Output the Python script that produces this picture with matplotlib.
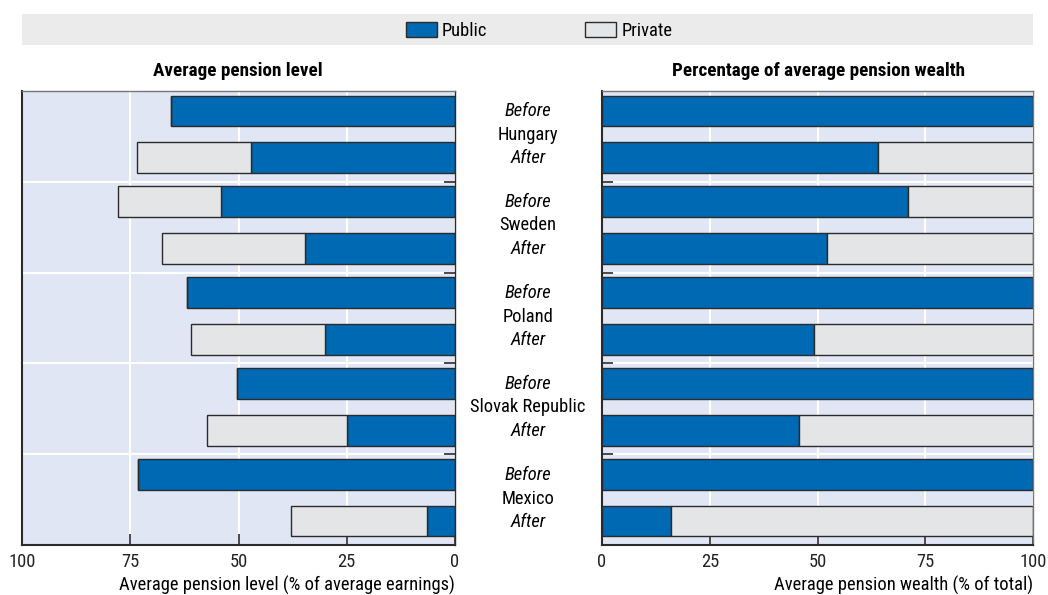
import matplotlib
matplotlib.use('Agg')
import matplotlib.pyplot as plt
from matplotlib.patches import Rectangle

plt.rcParams['font.family'] = ['Roboto Condensed', 'DejaVu Sans']

# Data
countries = ['Hungary', 'Sweden', 'Poland', 'Slovak Republic', 'Mexico']
level_public_before = [65.5, 54.0, 61.9, 50.3, 73.2]
level_private_before = [0.0, 23.8, 0.0, 0.0, 0.0]
level_public_after = [47.1, 34.6, 30.0, 24.9, 6.5]
level_private_after = [26.3, 33.1, 31.0, 32.4, 31.4]
wealth_public_before = [100.0, 71.0, 100.0, 100.0, 100.0]
wealth_public_after = [64.0, 52.2, 49.2, 45.7, 16.0]

PUBLIC = '#0069b4'
PRIVATE = '#e4e5e7'
BG = '#e0e6f4'
EDGE = '#2b2b2b'
FS = 13.3

fig = plt.figure(figsize=(10.48, 5.95), dpi=100)
W, H = 1048, 595

# legend band
fig.patches.append(Rectangle((22 / W, 1 - 45 / H), (1033 - 22) / W, 31 / H,
                             transform=fig.transFigure, facecolor='#ebebeb',
                             edgecolor='none', zorder=0))
fig.patches.append(Rectangle((406 / W, 1 - 37 / H), 31 / W, 15 / H,
                             transform=fig.transFigure, facecolor=PUBLIC,
                             edgecolor=EDGE, lw=1))
fig.text(442 / W, 1 - 30.5 / H, 'Public', fontsize=FS, va='center')
fig.patches.append(Rectangle((585 / W, 1 - 37 / H), 31 / W, 15 / H,
                             transform=fig.transFigure, facecolor=PRIVATE,
                             edgecolor=EDGE, lw=1))
fig.text(622 / W, 1 - 30.5 / H, 'Private', fontsize=FS, va='center')

ax1 = fig.add_axes([22 / W, 50 / H, 433 / W, 454 / H])
ax2 = fig.add_axes([602 / W, 50 / H, 431 / W, 454 / H])

yb = [i + 0.22 for i in range(len(countries))]
ya = [i + 0.735 for i in range(len(countries))]
h = 0.34

# left panel: public from 0, private stacked on top
ax1.barh(yb, level_public_before, height=h, color=PUBLIC, edgecolor=EDGE, lw=1)
ax1.barh(yb, level_private_before, left=level_public_before, height=h,
         color=PRIVATE, edgecolor=EDGE, lw=1)
ax1.barh(ya, level_public_after, height=h, color=PUBLIC, edgecolor=EDGE, lw=1)
ax1.barh(ya, level_private_after, left=level_public_after, height=h,
         color=PRIVATE, edgecolor=EDGE, lw=1)
ax1.set_xlim(100, 0)

# right panel: shares add up to 100
wealth_private_before = [100 - v for v in wealth_public_before]
wealth_private_after = [100 - v for v in wealth_public_after]
ax2.barh(yb, wealth_public_before, height=h, color=PUBLIC, edgecolor=EDGE, lw=1)
ax2.barh(yb, wealth_private_before, left=wealth_public_before, height=h,
         color=PRIVATE, edgecolor=EDGE, lw=1)
ax2.barh(ya, wealth_public_after, height=h, color=PUBLIC, edgecolor=EDGE, lw=1)
ax2.barh(ya, wealth_private_after, left=wealth_public_after, height=h,
         color=PRIVATE, edgecolor=EDGE, lw=1)
ax2.set_xlim(0, 100)

for ax in (ax1, ax2):
    ax.set_facecolor(BG)
    ax.set_ylim(len(countries), 0)
    ax.set_axisbelow(True)
    ax.set_xticks([0, 25, 50, 75, 100])
    ax.set_yticks(range(1, len(countries)))
    ax.set_yticklabels([])
    ax.grid(True, color='white', lw=1.5)
    ax.tick_params(axis='x', direction='in', length=8, width=1.2,
                   colors=EDGE, labelsize=FS, pad=6, labelcolor='#222222')
    ax.tick_params(axis='y', direction='in', length=8, width=1.2, colors=EDGE)
    for s in ax.spines.values():
        s.set_color(EDGE)
        s.set_linewidth(1.5)
    ax.spines['top'].set_color('#777777')
    ax.spines['top'].set_linewidth(1)

ax1.yaxis.tick_right()
ax1.spines['right'].set_linewidth(1)
ax2.spines['right'].set_linewidth(1)
ax2.spines['right'].set_color('#777777')

fig.text(238 / W, 1 - 71 / H, 'Average pension level', fontsize=13.8,
         fontweight='bold', ha='center', va='center')
fig.text(818 / W, 1 - 71 / H, 'Percentage of average pension wealth', fontsize=13.8,
         fontweight='bold', ha='center', va='center')
fig.text(455 / W, 1 - 585 / H, 'Average pension level (% of average earnings)',
         fontsize=FS, ha='right', va='center')
fig.text(1033 / W, 1 - 585 / H, 'Average pension wealth (% of total)',
         fontsize=FS, ha='right', va='center')

# middle labels
for i, c in enumerate(countries):
    top = 91 + 91 * i
    fig.text(528 / W, 1 - (top + 20) / H, 'Before', fontsize=FS,
             style='italic', ha='center', va='center')
    fig.text(528 / W, 1 - (top + 43.5) / H, c, fontsize=FS,
             ha='center', va='center')
    fig.text(528 / W, 1 - (top + 67) / H, 'After', fontsize=FS,
             style='italic', ha='center', va='center')

fig.savefig('out.png', dpi=100)
